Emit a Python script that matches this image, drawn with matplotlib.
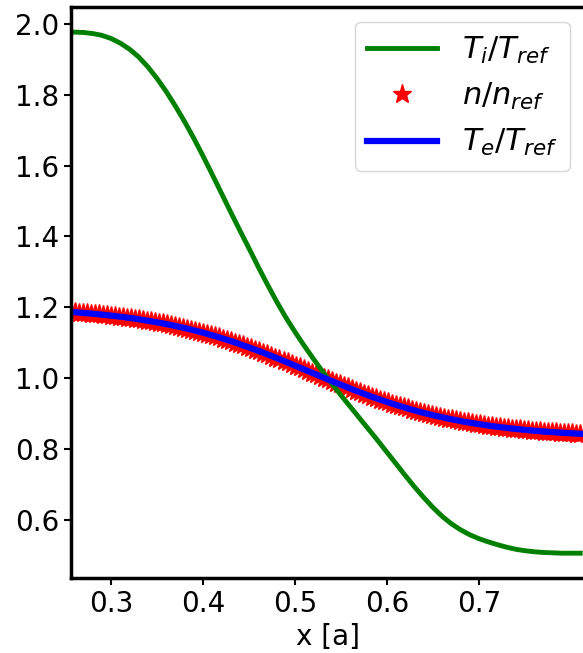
import numpy as np
import matplotlib
matplotlib.use("Agg")
import matplotlib.pyplot as plt

# ion temperature profile
x_ti = [0.2565] + [round(0.26 + 0.01 * k, 2) for k in range(56)]
ti = [1.977,
      1.977, 1.976, 1.973, 1.968, 1.959, 1.946, 1.929, 1.907, 1.879, 1.846,
      1.809, 1.768, 1.724, 1.677, 1.627, 1.575, 1.522, 1.469, 1.417, 1.366,
      1.314, 1.264, 1.216, 1.171, 1.130, 1.091, 1.054, 1.018, 0.984, 0.951,
      0.919, 0.887, 0.855, 0.823, 0.790, 0.757, 0.724, 0.692, 0.662, 0.634,
      0.609, 0.588, 0.571, 0.557, 0.546, 0.537, 0.529, 0.522, 0.516, 0.512,
      0.509, 0.507, 0.506, 0.505, 0.505, 0.505]

# electron temperature / density profile (128 grid points)
x_prof = np.linspace(0.2565, 0.81, 128)
te = [1.1866, 1.1857, 1.1849, 1.1840, 1.1830, 1.1820, 1.1809, 1.1798,
      1.1787, 1.1775, 1.1762, 1.1749, 1.1735, 1.1721, 1.1706, 1.1691,
      1.1675, 1.1657, 1.1639, 1.1621, 1.1602, 1.1582, 1.1561, 1.1540,
      1.1517, 1.1494, 1.1470, 1.1445, 1.1420, 1.1393, 1.1366, 1.1336,
      1.1307, 1.1277, 1.1245, 1.1213, 1.1180, 1.1146, 1.1111, 1.1074,
      1.1038, 1.0999, 1.0960, 1.0920, 1.0880, 1.0839, 1.0797, 1.0754,
      1.0711, 1.0666, 1.0622, 1.0577, 1.0531, 1.0485, 1.0438, 1.0391,
      1.0343, 1.0296, 1.0248, 1.0200, 1.0153, 1.0105, 1.0057, 1.0010,
      0.9962, 0.9915, 0.9869, 0.9822, 0.9776, 0.9731, 0.9686, 0.9641,
      0.9598, 0.9555, 0.9513, 0.9471, 0.9431, 0.9391, 0.9352, 0.9314,
      0.9277, 0.9240, 0.9206, 0.9171, 0.9138, 0.9105, 0.9073, 0.9042,
      0.9012, 0.8984, 0.8956, 0.8929, 0.8904, 0.8879, 0.8854, 0.8831,
      0.8808, 0.8786, 0.8765, 0.8745, 0.8726, 0.8708, 0.8690, 0.8672,
      0.8656, 0.8640, 0.8625, 0.8611, 0.8597, 0.8584, 0.8571, 0.8559,
      0.8547, 0.8536, 0.8525, 0.8515, 0.8506, 0.8496, 0.8487, 0.8479,
      0.8471, 0.8463, 0.8456, 0.8449, 0.8443, 0.8436, 0.8430, 0.8424]
n = list(te)  # density overlaps Te exactly in the picture

fig = plt.figure(figsize=(5.83, 6.53), dpi=100)
ax = fig.add_axes([0.1218, 0.1149, 0.8816, 0.8744])

h_n, = ax.plot(x_prof, n, '*', color='red', ms=14, label=r'$n/n_{ref}$')
h_ti, = ax.plot(x_ti, ti, color='green', lw=3.5, label=r'$T_i/T_{ref}$')
h_te, = ax.plot(x_prof, te, color='blue', lw=4.5, label=r'$T_e/T_{ref}$')

ax.set_xlim(0.2565, 0.8152)
ax.set_ylim(0.435, 2.048)
ax.set_xticks([0.3, 0.4, 0.5, 0.6, 0.7])
ax.set_yticks([0.6, 0.8, 1.0, 1.2, 1.4, 1.6, 1.8, 2.0])
ax.tick_params(labelsize=20, length=5, width=1.5)
for s in ax.spines.values():
    s.set_linewidth(2.5)
ax.set_xlabel('x [a]', fontsize=20, labelpad=4)

ax.legend(handles=[h_ti, h_n, h_te], loc='upper right', fontsize=22,
          handlelength=2.3)

fig.savefig('out.png', dpi=100)
